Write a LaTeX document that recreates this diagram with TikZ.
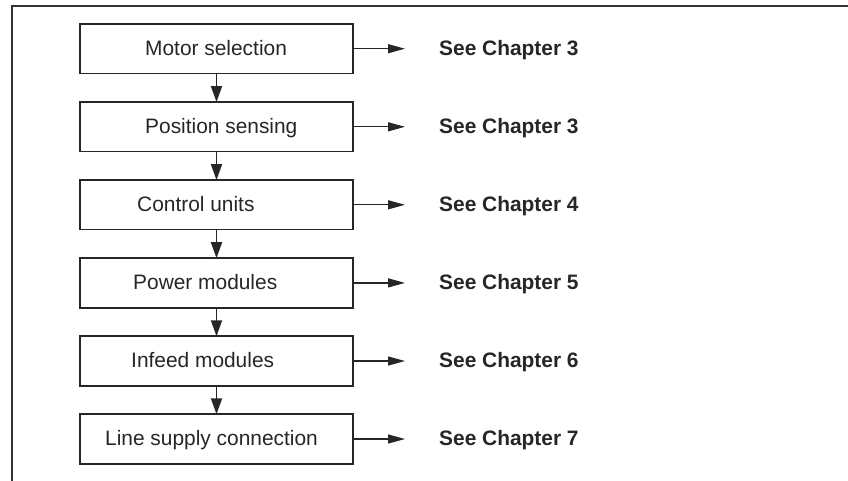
\documentclass[tikz,border=0pt]{standalone}
\usepackage{fontspec}
\setmainfont{Liberation Sans}
\usetikzlibrary{arrows.meta}
\begin{document}
\begin{tikzpicture}[x=1pt,y=-1pt,
  box/.style={draw=black!85, line width=1.8pt, minimum width=273pt, minimum height=49.5pt, inner sep=0pt, outer sep=0pt},
  lab/.style={anchor=base west, inner sep=0pt, font=\fontsize{20.9}{25}\selectfont, text=black!85},
  chap/.style={anchor=base west, inner sep=0pt, font=\fontsize{20.9}{25}\selectfont\bfseries, text=black!85},
  downarrow/.style={draw=black!85, line width=1.8pt, -{Triangle[length=16pt,width=11pt]}},
  sidearrow/.style={draw=black!85, line width=1.3pt, -{Triangle[length=17pt,width=9pt]}},
  frameline/.style={draw=black!80, line width=2pt}]
\useasboundingbox (0,0) rectangle (848,480);
% frame
\coordinate (fa) at (12,481);
\coordinate (fb) at (12,6);
\coordinate (fc) at (849,6);
\draw[frameline] (fa) -- (fb) -- (fc);
% boxes
\foreach \i/\y/\tx/\txt/\ch in {1/48.7/145/Motor selection/3, 2/126.8/145/Position sensing/3, 3/204.8/137/Control units/4, 4/282.9/133/Power modules/5, 5/361/131/Infeed modules/6, 6/439/105/Line supply connection/7}{
  \node[box] (b\i) at (216.5,\y) {};
  \node[lab] (t\i) at (\tx,\y+6.8) {\txt};
  \coordinate (e\i) at (405,\y);
  \node[chap] (c\i) at (439,\y+6.8) {See Chapter \ch};
  \draw[sidearrow] (b\i.east) -- (e\i);
}
\foreach \i/\j in {1/2,2/3,3/4,4/5,5/6}{
  \draw[downarrow] (b\i.south) -- (b\j.north);
}
\end{tikzpicture}
\end{document}
